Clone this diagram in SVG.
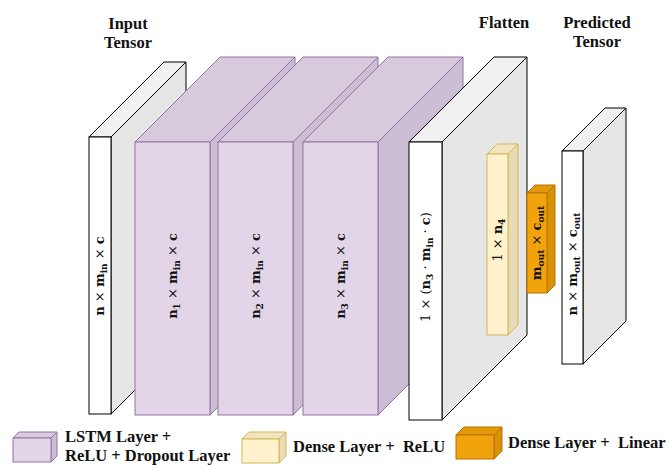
<svg xmlns="http://www.w3.org/2000/svg" width="669" height="465" viewBox="0 0 669 465">
  <style>
    .gray .front { fill: #ffffff; stroke: #000000; }
    .gray .top { fill: #f1f1f1; stroke: #000000; }
    .gray .side { fill: #e6e6e6; stroke: #000000; }
    .lstm .front { fill: #e1d5e7; stroke: #9673a6; }
    .lstm .top { fill: #d7cadd; stroke: #9673a6; }
    .lstm .side { fill: #cbbdd3; stroke: #9673a6; }
    .dense .front { fill: #fff2cc; stroke: #d6b656; }
    .dense .top { fill: #f1e5c0; stroke: #d6b656; }
    .dense .side { fill: #e7dbb8; stroke: #d6b656; }
    .linear .front { fill: #f0a30a; stroke: #bd7000; }
    .linear .top { fill: #e39a09; stroke: #bd7000; }
    .linear .side { fill: #d89208; stroke: #bd7000; }
    .title { font-family: "Liberation Serif", "Times New Roman", serif; font-weight: bold; font-size: 16.5px; fill: #111111; text-anchor: middle; }
    .legend { font-family: "Liberation Serif", "Times New Roman", serif; font-weight: bold; font-size: 16.5px; fill: #111111; }
    .math { font-family: "DejaVu Serif", serif; font-weight: bold; font-size: 13px; fill: #111111; text-anchor: middle; }
    .op { font-weight: normal; }
    .sub { font-size: 9px; }
  </style>

  <!-- input tensor -->
  <g id="input-tensor" class="gray">
    <polygon class="side" points="111,137 186,62 186,339 111,414"/>
    <polygon class="top" points="89,137 164,62 186,62 111,137"/>
    <rect class="front" x="89" y="137" width="22" height="277"/>
    <text class="math" transform="translate(100,276) rotate(-90)" y="4">n<tspan class="op"> × </tspan>m<tspan class="sub" dy="3">in</tspan><tspan class="op" dy="-3"> × </tspan>c</text>
  </g>

  <!-- LSTM layers -->
  <g id="lstm-1" class="lstm">
    <polygon class="side" points="210,142 295,57 295,330 210,415"/>
    <polygon class="top" points="135,142 220,57 295,57 210,142"/>
    <rect class="front" x="135" y="142" width="75" height="273"/>
    <text class="math" transform="translate(172.5,276) rotate(-90)" y="4">n<tspan class="sub" dy="3">1</tspan><tspan class="op" dy="-3"> × </tspan>m<tspan class="sub" dy="3">in</tspan><tspan class="op" dy="-3"> × </tspan>c</text>
  </g>
  <g id="lstm-2" class="lstm">
    <polygon class="side" points="293,142 378,57 378,330 293,415"/>
    <polygon class="top" points="218,142 303,57 378,57 293,142"/>
    <rect class="front" x="218" y="142" width="75" height="273"/>
    <text class="math" transform="translate(255.5,276) rotate(-90)" y="4">n<tspan class="sub" dy="3">2</tspan><tspan class="op" dy="-3"> × </tspan>m<tspan class="sub" dy="3">in</tspan><tspan class="op" dy="-3"> × </tspan>c</text>
  </g>
  <g id="lstm-3" class="lstm">
    <polygon class="side" points="378,142 463,57 463,330 378,415"/>
    <polygon class="top" points="303,142 388,57 463,57 378,142"/>
    <rect class="front" x="303" y="142" width="75" height="273"/>
    <text class="math" transform="translate(340.5,276) rotate(-90)" y="4">n<tspan class="sub" dy="3">3</tspan><tspan class="op" dy="-3"> × </tspan>m<tspan class="sub" dy="3">in</tspan><tspan class="op" dy="-3"> × </tspan>c</text>
  </g>

  <!-- flatten -->
  <g id="flatten" class="gray">
    <polygon class="side" points="442,142 527,57 527,335 442,420"/>
    <polygon class="top" points="409,142 494,57 527,57 442,142"/>
    <rect class="front" x="409" y="142" width="33" height="278"/>
    <text class="math" transform="translate(425.5,267) rotate(-90)" y="4"><tspan class="op">1 × (</tspan>n<tspan class="sub" dy="3">3</tspan><tspan class="op" dy="-3"> · </tspan>m<tspan class="sub" dy="3">in</tspan><tspan class="op" dy="-3"> · </tspan>c<tspan class="op">)</tspan></text>
  </g>

  <!-- dense + ReLU -->
  <g id="dense-relu" class="dense">
    <polygon class="side" points="508,154 518,144 518,325 508,335"/>
    <polygon class="top" points="487,154 497,144 518,144 508,154"/>
    <rect class="front" x="487" y="154" width="21" height="181"/>
    <text class="math" transform="translate(497.5,240) rotate(-90)" y="4"><tspan class="op">1 × </tspan>n<tspan class="sub" dy="3">4</tspan></text>
  </g>

  <!-- dense + linear -->
  <g id="dense-linear" class="linear">
    <polygon class="side" points="547,193 555,185 555,285 547,293"/>
    <polygon class="top" points="527,193 535,185 555,185 547,193"/>
    <rect class="front" x="527" y="193" width="20" height="100"/>
    <text class="math" transform="translate(537,243) rotate(-90)" y="4">m<tspan class="sub" dy="3">out</tspan><tspan class="op" dy="-3"> × </tspan>c<tspan class="sub" dy="3">out</tspan></text>
  </g>

  <!-- predicted tensor -->
  <g id="predicted-tensor" class="gray">
    <polygon class="side" points="583,151 626,108 626,321 583,364"/>
    <polygon class="top" points="562,151 605,108 626,108 583,151"/>
    <rect class="front" x="562" y="151" width="21" height="213"/>
    <text class="math" transform="translate(572.5,264) rotate(-90)" y="4">n<tspan class="op"> × </tspan>m<tspan class="sub" dy="3">out</tspan><tspan class="op" dy="-3"> × </tspan>c<tspan class="sub" dy="3">out</tspan></text>
  </g>

  <!-- connectors: none drawn between layers -->
  <g id="connectors"/>

  <!-- titles -->
  <g id="titles">
    <text class="title" x="128" y="29">Input</text>
    <text class="title" x="128" y="48">Tensor</text>
    <text class="title" x="504" y="28">Flatten</text>
    <text class="title" x="597" y="28">Predicted</text>
    <text class="title" x="597" y="47">Tensor</text>
  </g>

  <!-- legend -->
  <g id="legend-lstm" class="lstm">
    <polygon class="side" points="51,438 57,432 57,456 51,462"/>
    <polygon class="top" points="13,438 19,432 57,432 51,438"/>
    <rect class="front" x="13" y="438" width="38" height="24"/>
    <text class="legend" x="65" y="442">LSTM Layer +</text>
    <text class="legend" x="65" y="460.5">ReLU + Dropout Layer</text>
  </g>
  <g id="legend-dense-relu" class="dense">
    <polygon class="side" points="279,439 286,432 286,456 279,463"/>
    <polygon class="top" points="242,439 249,432 286,432 279,439"/>
    <rect class="front" x="242" y="439" width="37" height="24"/>
    <text class="legend" x="293" y="452" xml:space="preserve">Dense Layer +  ReLU</text>
  </g>
  <g id="legend-dense-linear" class="linear">
    <polygon class="side" points="494,435 502,427 502,451 494,459"/>
    <polygon class="top" points="456,435 464,427 502,427 494,435"/>
    <rect class="front" x="456" y="435" width="38" height="24"/>
    <text class="legend" x="508" y="448" xml:space="preserve">Dense Layer +  Linear</text>
  </g>
</svg>
